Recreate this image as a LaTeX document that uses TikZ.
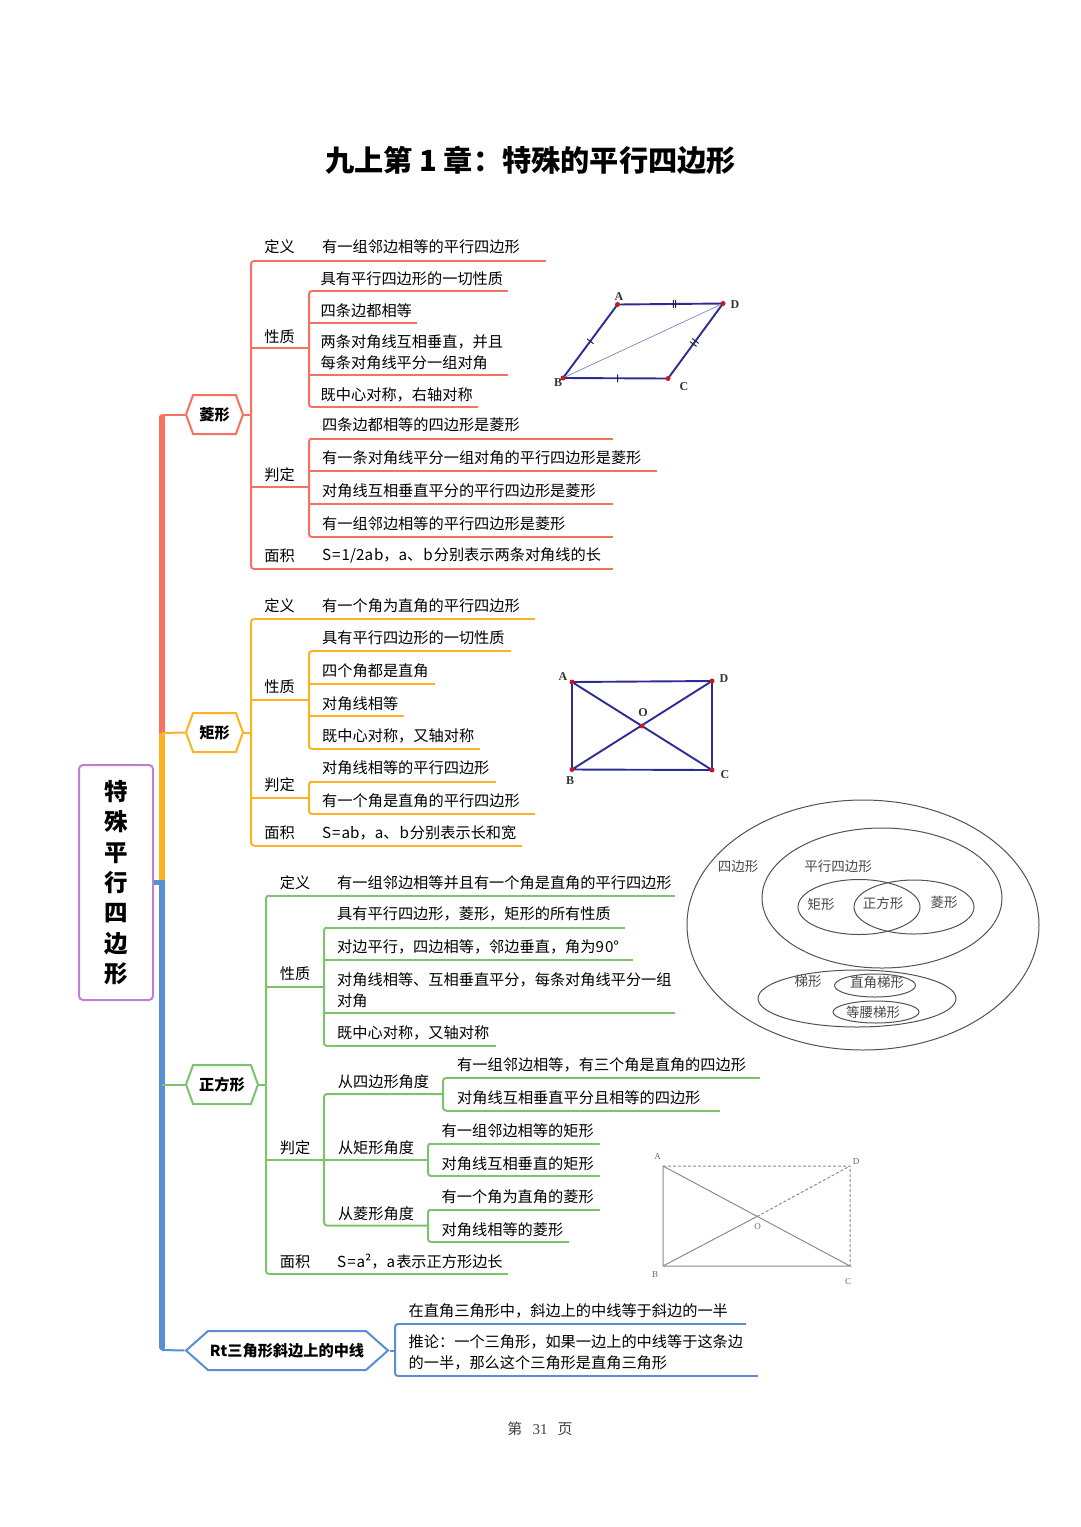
\documentclass[tikz,border=0pt]{standalone}
\usepackage{fontspec}
\setmainfont{Noto Sans CJK SC}
\newfontfamily\figfont{Liberation Serif}
\usetikzlibrary{shapes.symbols,calc}
\definecolor{RhombRed}{RGB}{247,113,96}
\definecolor{RectOrange}{RGB}{251,178,35}
\definecolor{SquareGreen}{RGB}{124,196,108}
\definecolor{MedianBlue}{RGB}{88,142,212}
\definecolor{RootPurple}{RGB}{190,128,208}
\definecolor{FigNavy}{RGB}{44,44,150}
\definecolor{FigDot}{RGB}{200,24,40}
\tikzset{
  leaftxt/.style={anchor=west,inner sep=0pt,yshift=-0.8pt,align=left,font=\fontsize{15.2}{21}\selectfont},
  labtxt/.style={inner sep=0pt,yshift=-0.8pt,font=\fontsize{15.2}{21}\selectfont},
  hexnode/.style={signal,signal to=east and west,signal pointer angle=140,inner sep=0pt,
    minimum width=57pt,minimum height=39pt,line width=2pt,fill=white,font=\fontsize{15.2}{18}\bfseries\selectfont},
  branch/.style={line width=2pt,rounded corners=3pt},
  trunk/.style={line width=5.5pt},
  vennline/.style={draw=black!68,line width=1pt},
  venntxt/.style={inner sep=0pt,text=black!72,font=\fontsize{13.5}{16}\selectfont},
  figlab/.style={inner sep=0pt,font=\figfont\bfseries\fontsize{12}{14}\selectfont,text=black!80},
  figlabb/.style={inner sep=0pt,font=\figfont\fontsize{9}{11}\selectfont,text=black!60},
  figdot/.style={fill=FigDot},
}
\begin{document}
\begin{tikzpicture}[x=1pt,y=-1pt]
  \useasboundingbox (0,0) rectangle (1080,1527);
  \node[inner sep=0pt,font=\fontsize{29.2}{34}\bfseries\selectfont] (title) at (530.5,160) {九上第 1 章：特殊的平行四边形};

  % root and trunk
  \node[draw=RootPurple,line width=2pt,rounded corners=4pt,minimum width=74pt,minimum height=235pt,inner sep=0pt,
    align=center,font=\fontsize{23.5}{30.35}\bfseries\selectfont] (root) at (116,882.5) {特\\殊\\平\\行\\四\\边\\形};
  \coordinate (tR) at (162,414.5);
  \coordinate (tO) at (162,733);
  \coordinate (tB) at (162,882.5);
  \coordinate (tG) at (162,1084.5);
  \coordinate (tM) at (162,1350);
  \node[hexnode,draw=RhombRed] (ling) at (214.5,414.5) {菱形};
  \node[hexnode,draw=RectOrange] (ju) at (214.5,732.5) {矩形};
  \node[hexnode,draw=SquareGreen,minimum width=72pt] (zheng) at (222,1084.5) {正方形};
  \node[hexnode,draw=MedianBlue,minimum width=202pt,signal pointer angle=83] (rt) at (287,1350.5) {Rt三角形斜边上的中线};
  \draw[trunk,RhombRed,line cap=round] ($(tR)+(0,2.5)$) -- (tO);
  \draw[trunk,RectOrange,line cap=round] ($(tO)+(0,2.5)$) -- ($(tB)+(0,-3)$);
  \draw[trunk,MedianBlue] ($(tB)+(0,-2.5)$) -- ($(tM)+(0,-2.5)$);
  \draw[trunk,MedianBlue,line cap=round] ($(tM)+(0,-2.6)$) -- ($(tM)+(0,-2.5)$);
  \draw[line width=5pt,MedianBlue] (root.east) -- (tB);
  \draw[branch,RhombRed] (ling.west) -- (tR);
  \draw[branch,RectOrange] (ju.west) -- (tO);
  \draw[branch,SquareGreen] (zheng.west) -- (tG);
  \draw[branch,MedianBlue] (rt.west) -- (tM);

  % rhombus branch
  \coordinate (lv) at (251,414.5);
  \coordinate (lp) at (309,348);
  \coordinate (lj) at (309,487);
  \foreach \nm/\x/\y/\txt in {lDef/279.5/246/定义,lPro/279.5/336/性质,lJud/279.5/474/判定,lAre/279.5/555/面积}
    \node[labtxt] (\nm) at (\x,\y) {\txt};
  \foreach \nm/\xa/\ya/\xb/\xt/\yt/\txt in {
    la/254/261/546/322/246/有一组邻边相等的平行四边形,
    lb/312/291/508/320.5/278/具有平行四边形的一切性质,
    lc/312/323/417/320.5/310/四条边都相等,
    ld/312/375/508/320.5/351.5/{两条对角线互相垂直，并且\\每条对角线平分一组对角},
    le/312/407/478/320.5/394/既中心对称，右轴对称,
    lf/312/438.5/613/322/424/四条边都相等的四边形是菱形,
    lg/312/471/657/322/457/有一条对角线平分一组对角的平行四边形是菱形,
    lh/312/503.5/613/322/490/对角线互相垂直平分的平行四边形是菱形,
    li/312/537/613/322/523/有一组邻边相等的平行四边形是菱形,
    lk/254/569/613/322/555/{S\kern1pt=\kern1pt1/2a\kern1pt b，a、\kern1pt b\kern1pt分别表示两条对角线的长}}{
    \coordinate (\nm s) at (\xa,\ya);
    \coordinate (\nm e) at (\xb,\ya);
    \node[leaftxt] (\nm) at (\xt,\yt) {\txt};
    \draw[branch,RhombRed] (\nm s) -- (\nm e);
  }
  \draw[branch,RhombRed] (las) -- (las-|lv) -- (lks-|lv) -- (lks);
  \draw[branch,RhombRed] (lbs) -- (lbs-|lp) -- (les-|lp) -- (les);
  \draw[branch,RhombRed] (lfs) -- (lfs-|lj) -- (lis-|lj) -- (lis);
  \draw[branch,RhombRed] (ling.east) -- (lv);
  \draw[branch,RhombRed] (lp-|lv) -- (lp);
  \draw[branch,RhombRed] (lj-|lv) -- (lj);
  \draw[branch,RhombRed] (lcs) -- (lcs-|lp);
  \draw[branch,RhombRed] (lds) -- (lds-|lp);
  \draw[branch,RhombRed] (lgs) -- (lgs-|lj);
  \draw[branch,RhombRed] (lhs) -- (lhs-|lj);

  % rectangle branch
  \coordinate (jv) at (251,732.5);
  \coordinate (jp) at (309,700);
  \coordinate (jj) at (309,797.5);
  \foreach \nm/\x/\y/\txt in {jDef/279.5/605/定义,jPro/279.5/686/性质,jJud/279.5/784/判定,jAre/279.5/832/面积}
    \node[labtxt] (\nm) at (\x,\y) {\txt};
  \foreach \nm/\xa/\ya/\xb/\xt/\yt/\txt in {
    ja/254/619/535/322/605/有一个角为直角的平行四边形,
    jb/312/651/511/322/637/具有平行四边形的一切性质,
    jc/312/683.5/435/322/670/四个角都是直角,
    jd/312/716/404/322/703/对角线相等,
    je/312/749/480/322/735.5/既中心对称，又轴对称,
    jf/312/781.5/496/322/767/对角线相等的平行四边形,
    jg/312/814/535/322/800/有一个角是直角的平行四边形,
    jh/254/845.5/522/322/832/{S\kern1pt=\kern1pt ab，a、\kern1pt b\kern1pt分别表示长和宽}}{
    \coordinate (\nm s) at (\xa,\ya);
    \coordinate (\nm e) at (\xb,\ya);
    \node[leaftxt] (\nm) at (\xt,\yt) {\txt};
    \draw[branch,RectOrange] (\nm s) -- (\nm e);
  }
  \draw[branch,RectOrange] (jas) -- (jas-|jv) -- (jhs-|jv) -- (jhs);
  \draw[branch,RectOrange] (jbs) -- (jbs-|jp) -- (jes-|jp) -- (jes);
  \draw[branch,RectOrange] (jfs) -- (jfs-|jj) -- (jgs-|jj) -- (jgs);
  \draw[branch,RectOrange] (ju.east) -- (jv);
  \draw[branch,RectOrange] (jp-|jv) -- (jp);
  \draw[branch,RectOrange] (jj-|jv) -- (jj);
  \draw[branch,RectOrange] (jcs) -- (jcs-|jp);
  \draw[branch,RectOrange] (jds) -- (jds-|jp);

  % square branch
  \coordinate (zv) at (266,1084.5);
  \coordinate (zp) at (324,987);
  \coordinate (zq) at (443,1094);
  \coordinate (zr) at (428,1159.5);
  \coordinate (zl) at (428,1225.5);
  \foreach \nm/\x/\y/\txt in {zDef/295/882/定义,zPro/295/973/性质,zJud/295/1147/判定,zAre/295/1261/面积,
    zFq/383.5/1081/从四边形角度,zFr/376/1147/从矩形角度,zFl/376/1213/从菱形角度}
    \node[labtxt] (\nm) at (\x,\y) {\txt};
  \foreach \nm/\xa/\ya/\xb/\xt/\yt/\txt in {
    za/269/895.5/675/337/882/有一组邻边相等并且有一个角是直角的平行四边形,
    zb/327/927.5/625/337/913/具有平行四边形，菱形，矩形的所有性质,
    zc/327/960/633/337/946/对边平行，四边相等，邻边垂直，角为9\kern1pt 0°,
    zd/327/1013/675/337/989/{对角线相等、互相垂直平分，每条对角线平分一组\\对角},
    ze/327/1046/496/337/1032/既中心对称，又轴对称,
    zf/446/1078/760/457/1064/有一组邻边相等，有三个角是直角的四边形,
    zg/446/1110.5/720/457/1097/对角线互相垂直平分且相等的四边形,
    zh/431/1143.5/600/441.5/1130/有一组邻边相等的矩形,
    zi/431/1176/600/441.5/1163/对角线互相垂直的矩形,
    zk/431/1209.5/600/441.5/1196/有一个角为直角的菱形,
    zm/431/1242/569/441.5/1229/对角线相等的菱形,
    zn/269/1274/508/337/1261/{S\kern1pt=\kern1pt a²，a\kern1pt表示正方形边长}}{
    \coordinate (\nm s) at (\xa,\ya);
    \coordinate (\nm e) at (\xb,\ya);
    \node[leaftxt] (\nm) at (\xt,\yt) {\txt};
    \draw[branch,SquareGreen] (\nm s) -- (\nm e);
  }
  \draw[branch,SquareGreen] (zas) -- (zas-|zv) -- (zns-|zv) -- (zns);
  \draw[branch,SquareGreen] (zbs) -- (zbs-|zp) -- (zes-|zp) -- (zes);
  \draw[branch,SquareGreen] (zfs) -- (zfs-|zq) -- (zgs-|zq) -- (zgs);
  \draw[branch,SquareGreen] (zhs) -- (zhs-|zr) -- (zis-|zr) -- (zis);
  \draw[branch,SquareGreen] (zks) -- (zks-|zl) -- (zms-|zl) -- (zms);
  \draw[branch,SquareGreen] (zheng.east) -- (zv);
  \draw[branch,SquareGreen] (zp-|zv) -- (zp);
  \draw[branch,SquareGreen] (zr-|zv) -- (zr);
  \draw[branch,SquareGreen] (zcs) -- (zcs-|zp);
  \draw[branch,SquareGreen] (zds) -- (zds-|zp);
  \draw[branch,SquareGreen] (zq) -- (zq-|zp) -- (zl-|zp) -- (zl);

  % median branch
  \coordinate (rv) at (395,1350.5);
  \foreach \nm/\xb/\ya/\xt/\yt/\txt in {
    ra/746/1324/408.5/1310/在直角三角形中，斜边上的中线等于斜边的一半,
    rb/758/1376/408.5/1351.5/{推论：一个三角形，如果一边上的中线等于这条边\\的一半，那么这个三角形是直角三角形}}{
    \coordinate (\nm s) at (398,\ya);
    \coordinate (\nm e) at (\xb,\ya);
    \node[leaftxt] (\nm) at (\xt,\yt) {\txt};
    \draw[branch,MedianBlue] (\nm s) -- (\nm e);
  }
  \draw[branch,MedianBlue] (ras) -- (ras-|rv) -- (rbs-|rv) -- (rbs);
  \draw[branch,MedianBlue] (rt.east) -- (rv);

  % rhombus figure
  \coordinate (A) at (617.5,304.5);
  \coordinate (D) at (723,303.5);
  \coordinate (B) at (563,378);
  \coordinate (C) at (668,378.5);
  \draw[FigNavy,line width=1.9pt] (A) -- (D) -- (C) -- (B) -- cycle;
  \draw[FigNavy!60,line width=0.7pt] (B) -- (D);
  \foreach \p/\q/\s in {A/B/0.5,B/C/0.52,A/D/0.53,A/D/0.55,C/D/0.46,C/D/0.5}
    \draw[black!85,line width=1pt] ($(\p)!\s!(\q)!4pt!90:(\q)$) -- ($(\p)!\s!(\q)!4pt!-90:(\q)$);
  \foreach \p in {A,B,C,D} \fill[figdot] (\p) circle (2.5pt);
  \node[figlab] (lA) at (619,297) {A};
  \node[figlab] (lD) at (735,305) {D};
  \node[figlab] (lB) at (558,383) {B};
  \node[figlab] (lC) at (684,387) {C};

  % rectangle figure
  \coordinate (rA) at (572,682);
  \coordinate (rD) at (712,681);
  \coordinate (rB) at (572,769.5);
  \coordinate (rC) at (712,770);
  \coordinate (rO) at (642,726);
  \draw[FigNavy,line width=1.9pt] (rA) -- (rD) -- (rC) -- (rB) -- cycle (rA) -- (rC) (rB) -- (rD);
  \foreach \p in {rA,rB,rC,rD,rO} \fill[figdot] (\p) circle (2.5pt);
  \node[figlab] (nA) at (563,677) {A};
  \node[figlab] (nD) at (724,679) {D};
  \node[figlab] (nB) at (570,781) {B};
  \node[figlab] (nC) at (725,775) {C};
  \node[figlab] (nO) at (643,713) {O};

  % venn diagram
  \draw[vennline] (863,925) ellipse (176 and 125);
  \draw[vennline] (882,898) ellipse (120 and 70);
  \draw[vennline] (859,907) ellipse (61 and 27.5);
  \draw[vennline] (914,907) ellipse (60 and 27);
  \draw[vennline] (857,998.5) ellipse (99 and 28.5);
  \draw[vennline] (875,985.5) ellipse (40.5 and 11.5);
  \draw[vennline] (876,1012) ellipse (43 and 11);
  \node[venntxt] (vQ) at (738,866) {四边形};
  \node[venntxt] (vP) at (838,866) {平行四边形};
  \node[venntxt] (vR) at (821,904) {矩形};
  \node[venntxt] (vS) at (883,903) {正方形};
  \node[venntxt] (vH) at (944,902) {菱形};
  \node[venntxt] (vT) at (808,981) {梯形};
  \node[venntxt] (vZ) at (877,982) {直角梯形};
  \node[venntxt] (vI) at (873,1012) {等腰梯形};

  % square figure
  \coordinate (sA) at (663,1166);
  \coordinate (sD) at (850,1166);
  \coordinate (sB) at (663,1266);
  \coordinate (sC) at (850,1266);
  \coordinate (sO) at (757,1216.5);
  \draw[black!45,line width=1pt] (sA) -- (sB) -- (sC) -- (sA) (sB) -- (sO);
  \draw[black!45,line width=1pt,dash pattern=on 3pt off 2pt] (sA) -- (sD) -- (sC) (sO) -- (sD);
  \node[figlabb] (mA) at (657.5,1157) {A};
  \node[figlabb] (mD) at (856,1162) {D};
  \node[figlabb] (mB) at (655,1275) {B};
  \node[figlabb] (mC) at (848,1282) {C};
  \node[figlabb] (mO) at (757.5,1227) {O};

  \node[inner sep=0pt,text=black!75,font=\fontsize{15}{18}\selectfont] (page) at (540,1429) {第\ \ \ {\figfont 31}\ \ \ 页};
\end{tikzpicture}
\end{document}
